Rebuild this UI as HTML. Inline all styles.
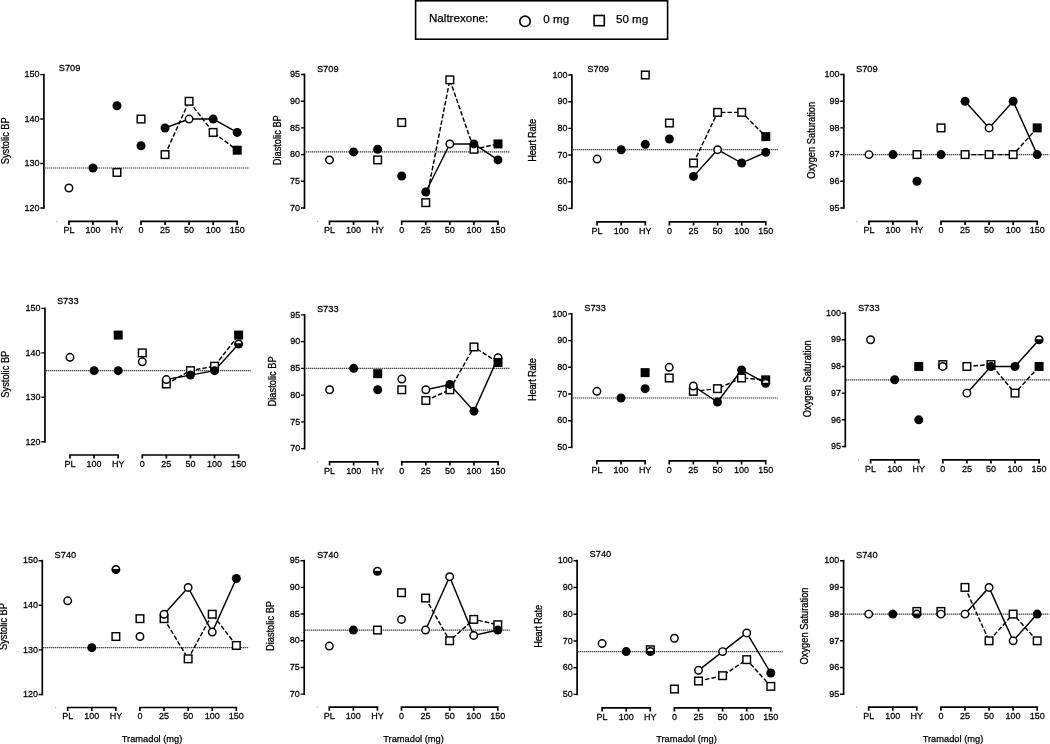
<!DOCTYPE html>
<html><head><meta charset="utf-8"><style>
html,body{margin:0;padding:0;background:#fff;}
svg{display:block;will-change:transform;}
text{font-family:"Liberation Sans", sans-serif;fill:#000;stroke:#000;stroke-width:0.25px;}
</style></head><body>
<svg width="1050" height="744" viewBox="0 0 1050 744">
<rect width="1050" height="744" fill="#fff"/>
<g>
<rect x="415.6" y="0.8" width="252" height="38.4" fill="#fff" stroke="#000" stroke-width="1.6"/>
<text transform="translate(429,22)" font-size="11.6">Naltrexone:</text>
<circle cx="525" cy="21.3" r="5.2" fill="#fff" stroke="#000" stroke-width="1.6"/>
<text transform="translate(543.3,22.9)" font-size="11.6">0 mg</text>
<rect x="594.1" y="15.5" width="10.2" height="10.2" fill="#fff" stroke="#000" stroke-width="1.6"/>
<text transform="translate(616,22.9)" font-size="11.6">50 mg</text>
</g>
<g><path d="M43.9,74.6 V208" stroke="#000" stroke-width="1.7" fill="none" stroke-linecap="square"/><path d="M43.9,208 h-3.6 M43.9,163.53 h-3.6 M43.9,119.07 h-3.6 M43.9,74.6 h-3.6 " stroke="#000" stroke-width="1.4449999999999998" fill="none"/><text transform="translate(39.5,210.7) scale(1,1.1)" text-anchor="end" font-size="9.0">120</text><text transform="translate(39.5,166.23) scale(1,1.1)" text-anchor="end" font-size="9.0">130</text><text transform="translate(39.5,121.77) scale(1,1.1)" text-anchor="end" font-size="9.0">140</text><text transform="translate(39.5,77.3) scale(1,1.1)" text-anchor="end" font-size="9.0">150</text><path d="M68.9,225 V221.4 H116.98 V225 M92.94,221.4 v3.6 " stroke="#000" stroke-width="1.7" fill="none" stroke-linejoin="miter"/><path d="M141.02,225 V221.4 H237.18 V225 M165.06,221.4 v3.6 M189.1,221.4 v3.6 M213.14,221.4 v3.6 " stroke="#000" stroke-width="1.7" fill="none" stroke-linejoin="miter"/><text transform="translate(68.9,233.1) scale(1,1.1)" text-anchor="middle" font-size="9.0">PL</text><text transform="translate(92.94,233.1) scale(1,1.1)" text-anchor="middle" font-size="9.0">100</text><text transform="translate(116.98,233.1) scale(1,1.1)" text-anchor="middle" font-size="9.0">HY</text><text transform="translate(141.02,233.1) scale(1,1.1)" text-anchor="middle" font-size="9.0">0</text><text transform="translate(165.06,233.1) scale(1,1.1)" text-anchor="middle" font-size="9.0">25</text><text transform="translate(189.1,233.1) scale(1,1.1)" text-anchor="middle" font-size="9.0">50</text><text transform="translate(213.14,233.1) scale(1,1.1)" text-anchor="middle" font-size="9.0">100</text><text transform="translate(237.18,233.1) scale(1,1.1)" text-anchor="middle" font-size="9.0">150</text><text transform="translate(58.7,70.6) scale(1,1.05)" font-size="9.3">S709</text><text transform="translate(8.7,140.75) rotate(-90) scale(1,1.1)" text-anchor="middle" font-size="9.3">Systolic BP</text><circle cx="56.9" cy="221.4" r="0.6" fill="#999"/><path d="M45,167.98 H249.18" stroke="#000" stroke-opacity="0.3" stroke-width="1.2" fill="none"/><path d="M45,167.98 H249.18" stroke="#000" stroke-opacity="0.55" stroke-width="1.2" stroke-dasharray="1 1" fill="none"/><polyline points="165.06,154.64 189.1,101.28 213.14,132.41 237.18,150.19" stroke="#000" stroke-width="1.45" fill="none" stroke-dasharray="4.6 2"/><polyline points="165.06,127.96 189.1,119.07 213.14,119.07 237.18,132.41" stroke="#000" stroke-width="1.45" fill="none"/><circle cx="68.9" cy="187.99" r="3.75" fill="#fff" stroke="#000" stroke-width="1.45"/><circle cx="92.94" cy="167.98" r="4.5" fill="#000"/><circle cx="116.98" cy="105.73" r="4.5" fill="#000"/><rect x="113.18" y="168.63" width="7.6" height="7.6" fill="#fff" stroke="#000" stroke-width="1.45"/><rect x="137.22" y="115.27" width="7.6" height="7.6" fill="#fff" stroke="#000" stroke-width="1.45"/><circle cx="141.02" cy="145.75" r="4.5" fill="#000"/><circle cx="165.06" cy="127.96" r="4.5" fill="#000"/><rect x="161.26" y="150.84" width="7.6" height="7.6" fill="#fff" stroke="#000" stroke-width="1.45"/><rect x="185.3" y="97.48" width="7.6" height="7.6" fill="#fff" stroke="#000" stroke-width="1.45"/><circle cx="189.1" cy="119.07" r="3.75" fill="#fff" stroke="#000" stroke-width="1.45"/><circle cx="213.14" cy="119.07" r="4.5" fill="#000"/><rect x="209.34" y="128.61" width="7.6" height="7.6" fill="#fff" stroke="#000" stroke-width="1.45"/><circle cx="237.18" cy="132.41" r="4.5" fill="#000"/><rect x="232.68" y="145.69" width="9.0" height="9.0" fill="#000"/></g>
<g><path d="M304.5,74.5 V208" stroke="#000" stroke-width="1.7" fill="none" stroke-linecap="square"/><path d="M304.5,208 h-3.6 M304.5,181.3 h-3.6 M304.5,154.6 h-3.6 M304.5,127.9 h-3.6 M304.5,101.2 h-3.6 M304.5,74.5 h-3.6 " stroke="#000" stroke-width="1.4449999999999998" fill="none"/><text transform="translate(300.1,210.7) scale(1,1.1)" text-anchor="end" font-size="9.0">70</text><text transform="translate(300.1,184) scale(1,1.1)" text-anchor="end" font-size="9.0">75</text><text transform="translate(300.1,157.3) scale(1,1.1)" text-anchor="end" font-size="9.0">80</text><text transform="translate(300.1,130.6) scale(1,1.1)" text-anchor="end" font-size="9.0">85</text><text transform="translate(300.1,103.9) scale(1,1.1)" text-anchor="end" font-size="9.0">90</text><text transform="translate(300.1,77.2) scale(1,1.1)" text-anchor="end" font-size="9.0">95</text><path d="M329.5,224.95 V221.35 H377.64 V224.95 M353.57,221.35 v3.6 " stroke="#000" stroke-width="1.7" fill="none" stroke-linejoin="miter"/><path d="M401.71,224.95 V221.35 H497.99 V224.95 M425.78,221.35 v3.6 M449.85,221.35 v3.6 M473.92,221.35 v3.6 " stroke="#000" stroke-width="1.7" fill="none" stroke-linejoin="miter"/><text transform="translate(329.5,233.05) scale(1,1.1)" text-anchor="middle" font-size="9.0">PL</text><text transform="translate(353.57,233.05) scale(1,1.1)" text-anchor="middle" font-size="9.0">100</text><text transform="translate(377.64,233.05) scale(1,1.1)" text-anchor="middle" font-size="9.0">HY</text><text transform="translate(401.71,233.05) scale(1,1.1)" text-anchor="middle" font-size="9.0">0</text><text transform="translate(425.78,233.05) scale(1,1.1)" text-anchor="middle" font-size="9.0">25</text><text transform="translate(449.85,233.05) scale(1,1.1)" text-anchor="middle" font-size="9.0">50</text><text transform="translate(473.92,233.05) scale(1,1.1)" text-anchor="middle" font-size="9.0">100</text><text transform="translate(497.99,233.05) scale(1,1.1)" text-anchor="middle" font-size="9.0">150</text><text transform="translate(316.9,71.5) scale(1,1.05)" font-size="9.3">S709</text><text transform="translate(281,140.25) rotate(-90) scale(1,1.1)" text-anchor="middle" font-size="9.3">Diastolic BP</text><circle cx="317.5" cy="221.35" r="0.6" fill="#999"/><path d="M306,151.93 H509.99" stroke="#000" stroke-opacity="0.3" stroke-width="1.2" fill="none"/><path d="M306,151.93 H509.99" stroke="#000" stroke-opacity="0.55" stroke-width="1.2" stroke-dasharray="1 1" fill="none"/><polyline points="425.78,202.66 449.85,79.84 473.92,149.26 497.99,143.92" stroke="#000" stroke-width="1.45" fill="none" stroke-dasharray="4.6 2"/><polyline points="425.78,191.98 449.85,143.92 473.92,143.92 497.99,159.94" stroke="#000" stroke-width="1.45" fill="none"/><circle cx="329.5" cy="159.94" r="3.75" fill="#fff" stroke="#000" stroke-width="1.45"/><circle cx="353.57" cy="151.93" r="4.5" fill="#000"/><circle cx="377.64" cy="149.26" r="4.5" fill="#000"/><rect x="373.84" y="156.14" width="7.6" height="7.6" fill="#fff" stroke="#000" stroke-width="1.45"/><rect x="397.91" y="118.76" width="7.6" height="7.6" fill="#fff" stroke="#000" stroke-width="1.45"/><circle cx="401.71" cy="175.96" r="4.5" fill="#000"/><circle cx="425.78" cy="191.98" r="4.5" fill="#000"/><rect x="421.98" y="198.86" width="7.6" height="7.6" fill="#fff" stroke="#000" stroke-width="1.45"/><rect x="446.05" y="76.04" width="7.6" height="7.6" fill="#fff" stroke="#000" stroke-width="1.45"/><circle cx="449.85" cy="143.92" r="3.75" fill="#fff" stroke="#000" stroke-width="1.45"/><rect x="470.12" y="145.46" width="7.6" height="7.6" fill="#fff" stroke="#000" stroke-width="1.45"/><circle cx="473.92" cy="143.92" r="4.5" fill="#000"/><rect x="493.49" y="139.42" width="9.0" height="9.0" fill="#000"/><circle cx="497.99" cy="159.94" r="4.5" fill="#000"/></g>
<g><path d="M571.9,75 V208.4" stroke="#000" stroke-width="1.7" fill="none" stroke-linecap="square"/><path d="M571.9,208.4 h-3.6 M571.9,181.72 h-3.6 M571.9,155.04 h-3.6 M571.9,128.36 h-3.6 M571.9,101.68 h-3.6 M571.9,75 h-3.6 " stroke="#000" stroke-width="1.4449999999999998" fill="none"/><text transform="translate(567.5,211.1) scale(1,1.1)" text-anchor="end" font-size="9.0">50</text><text transform="translate(567.5,184.42) scale(1,1.1)" text-anchor="end" font-size="9.0">60</text><text transform="translate(567.5,157.74) scale(1,1.1)" text-anchor="end" font-size="9.0">70</text><text transform="translate(567.5,131.06) scale(1,1.1)" text-anchor="end" font-size="9.0">80</text><text transform="translate(567.5,104.38) scale(1,1.1)" text-anchor="end" font-size="9.0">90</text><text transform="translate(567.5,77.7) scale(1,1.1)" text-anchor="end" font-size="9.0">100</text><path d="M597.1,225.4 V221.8 H645.3 V225.4 M621.2,221.8 v3.6 " stroke="#000" stroke-width="1.7" fill="none" stroke-linejoin="miter"/><path d="M669.4,225.4 V221.8 H765.8 V225.4 M693.5,221.8 v3.6 M717.6,221.8 v3.6 M741.7,221.8 v3.6 " stroke="#000" stroke-width="1.7" fill="none" stroke-linejoin="miter"/><text transform="translate(597.1,233.5) scale(1,1.1)" text-anchor="middle" font-size="9.0">PL</text><text transform="translate(621.2,233.5) scale(1,1.1)" text-anchor="middle" font-size="9.0">100</text><text transform="translate(645.3,233.5) scale(1,1.1)" text-anchor="middle" font-size="9.0">HY</text><text transform="translate(669.4,233.5) scale(1,1.1)" text-anchor="middle" font-size="9.0">0</text><text transform="translate(693.5,233.5) scale(1,1.1)" text-anchor="middle" font-size="9.0">25</text><text transform="translate(717.6,233.5) scale(1,1.1)" text-anchor="middle" font-size="9.0">50</text><text transform="translate(741.7,233.5) scale(1,1.1)" text-anchor="middle" font-size="9.0">100</text><text transform="translate(765.8,233.5) scale(1,1.1)" text-anchor="middle" font-size="9.0">150</text><text transform="translate(587.3,71.6) scale(1,1.05)" font-size="9.3">S709</text><text transform="translate(536.3,140.5) rotate(-90) scale(1,1.1)" text-anchor="middle" font-size="9.3" letter-spacing="-0.22">Heart Rate</text><path d="M573,149.7 H777.8" stroke="#000" stroke-opacity="0.3" stroke-width="1.2" fill="none"/><path d="M573,149.7 H777.8" stroke="#000" stroke-opacity="0.55" stroke-width="1.2" stroke-dasharray="1 1" fill="none"/><polyline points="693.5,163.04 717.6,112.35 741.7,112.35 765.8,136.63" stroke="#000" stroke-width="1.45" fill="none" stroke-dasharray="4.6 2"/><polyline points="693.5,176.38 717.6,149.7 741.7,163.04 765.8,152.37" stroke="#000" stroke-width="1.45" fill="none"/><circle cx="597.1" cy="159.04" r="3.75" fill="#fff" stroke="#000" stroke-width="1.45"/><circle cx="621.2" cy="149.7" r="4.5" fill="#000"/><rect x="641.5" y="71.2" width="7.6" height="7.6" fill="#fff" stroke="#000" stroke-width="1.45"/><circle cx="645.3" cy="144.37" r="4.5" fill="#000"/><rect x="665.6" y="119.22" width="7.6" height="7.6" fill="#fff" stroke="#000" stroke-width="1.45"/><circle cx="669.4" cy="139.03" r="4.5" fill="#000"/><rect x="689.7" y="159.24" width="7.6" height="7.6" fill="#fff" stroke="#000" stroke-width="1.45"/><circle cx="693.5" cy="176.38" r="4.5" fill="#000"/><rect x="713.8" y="108.55" width="7.6" height="7.6" fill="#fff" stroke="#000" stroke-width="1.45"/><circle cx="717.6" cy="149.7" r="3.75" fill="#fff" stroke="#000" stroke-width="1.45"/><rect x="737.9" y="108.55" width="7.6" height="7.6" fill="#fff" stroke="#000" stroke-width="1.45"/><circle cx="741.7" cy="163.04" r="4.5" fill="#000"/><rect x="761.3" y="132.13" width="9.0" height="9.0" fill="#000"/><circle cx="765.8" cy="152.37" r="4.5" fill="#000"/></g>
<g><path d="M843.8,74.5 V208" stroke="#000" stroke-width="1.7" fill="none" stroke-linecap="square"/><path d="M843.8,208 h-3.6 M843.8,181.3 h-3.6 M843.8,154.6 h-3.6 M843.8,127.9 h-3.6 M843.8,101.2 h-3.6 M843.8,74.5 h-3.6 " stroke="#000" stroke-width="1.4449999999999998" fill="none"/><text transform="translate(839.4,210.7) scale(1,1.1)" text-anchor="end" font-size="9.0">95</text><text transform="translate(839.4,184) scale(1,1.1)" text-anchor="end" font-size="9.0">96</text><text transform="translate(839.4,157.3) scale(1,1.1)" text-anchor="end" font-size="9.0">97</text><text transform="translate(839.4,130.6) scale(1,1.1)" text-anchor="end" font-size="9.0">98</text><text transform="translate(839.4,103.9) scale(1,1.1)" text-anchor="end" font-size="9.0">99</text><text transform="translate(839.4,77.2) scale(1,1.1)" text-anchor="end" font-size="9.0">100</text><path d="M868.9,224.9 V221.3 H916.98 V224.9 M892.94,221.3 v3.6 " stroke="#000" stroke-width="1.7" fill="none" stroke-linejoin="miter"/><path d="M941.02,224.9 V221.3 H1037.18 V224.9 M965.06,221.3 v3.6 M989.1,221.3 v3.6 M1013.14,221.3 v3.6 " stroke="#000" stroke-width="1.7" fill="none" stroke-linejoin="miter"/><text transform="translate(868.9,233) scale(1,1.1)" text-anchor="middle" font-size="9.0">PL</text><text transform="translate(892.94,233) scale(1,1.1)" text-anchor="middle" font-size="9.0">100</text><text transform="translate(916.98,233) scale(1,1.1)" text-anchor="middle" font-size="9.0">HY</text><text transform="translate(941.02,233) scale(1,1.1)" text-anchor="middle" font-size="9.0">0</text><text transform="translate(965.06,233) scale(1,1.1)" text-anchor="middle" font-size="9.0">25</text><text transform="translate(989.1,233) scale(1,1.1)" text-anchor="middle" font-size="9.0">50</text><text transform="translate(1013.14,233) scale(1,1.1)" text-anchor="middle" font-size="9.0">100</text><text transform="translate(1037.18,233) scale(1,1.1)" text-anchor="middle" font-size="9.0">150</text><text transform="translate(856,71.5) scale(1,1.05)" font-size="9.3">S709</text><text transform="translate(814.5,140.35) rotate(-90) scale(1,1.1)" text-anchor="middle" font-size="9.3">Oxygen Saturation</text><circle cx="856.9" cy="221.3" r="0.6" fill="#999"/><path d="M845,154.6 H1049.18" stroke="#000" stroke-opacity="0.3" stroke-width="1.2" fill="none"/><path d="M845,154.6 H1049.18" stroke="#000" stroke-opacity="0.55" stroke-width="1.2" stroke-dasharray="1 1" fill="none"/><polyline points="965.06,154.6 989.1,154.6 1013.14,154.6 1037.18,127.9" stroke="#000" stroke-width="1.45" fill="none" stroke-dasharray="4.6 2"/><polyline points="965.06,101.2 989.1,127.9 1013.14,101.2 1037.18,154.6" stroke="#000" stroke-width="1.45" fill="none"/><circle cx="868.9" cy="154.6" r="3.75" fill="#fff" stroke="#000" stroke-width="1.45"/><circle cx="892.94" cy="154.6" r="4.5" fill="#000"/><rect x="913.18" y="150.8" width="7.6" height="7.6" fill="#fff" stroke="#000" stroke-width="1.45"/><circle cx="916.98" cy="181.3" r="4.5" fill="#000"/><rect x="937.22" y="124.1" width="7.6" height="7.6" fill="#fff" stroke="#000" stroke-width="1.45"/><circle cx="941.02" cy="154.6" r="4.5" fill="#000"/><circle cx="965.06" cy="101.2" r="4.5" fill="#000"/><rect x="961.26" y="150.8" width="7.6" height="7.6" fill="#fff" stroke="#000" stroke-width="1.45"/><circle cx="989.1" cy="127.9" r="3.75" fill="#fff" stroke="#000" stroke-width="1.45"/><rect x="985.3" y="150.8" width="7.6" height="7.6" fill="#fff" stroke="#000" stroke-width="1.45"/><circle cx="1013.14" cy="101.2" r="4.5" fill="#000"/><rect x="1009.34" y="150.8" width="7.6" height="7.6" fill="#fff" stroke="#000" stroke-width="1.45"/><rect x="1032.68" y="123.4" width="9.0" height="9.0" fill="#000"/><circle cx="1037.18" cy="154.6" r="4.5" fill="#000"/></g>
<g><path d="M44.95,308.4 V441.8" stroke="#000" stroke-width="1.7" fill="none" stroke-linecap="square"/><path d="M44.95,441.8 h-3.6 M44.95,397.33 h-3.6 M44.95,352.87 h-3.6 M44.95,308.4 h-3.6 " stroke="#000" stroke-width="1.4449999999999998" fill="none"/><text transform="translate(40.55,444.5) scale(1,1.1)" text-anchor="end" font-size="9.0">120</text><text transform="translate(40.55,400.03) scale(1,1.1)" text-anchor="end" font-size="9.0">130</text><text transform="translate(40.55,355.57) scale(1,1.1)" text-anchor="end" font-size="9.0">140</text><text transform="translate(40.55,311.1) scale(1,1.1)" text-anchor="end" font-size="9.0">150</text><path d="M70,458.6 V455 H118.18 V458.6 M94.09,455 v3.6 " stroke="#000" stroke-width="1.7" fill="none" stroke-linejoin="miter"/><path d="M142.27,458.6 V455 H238.63 V458.6 M166.36,455 v3.6 M190.45,455 v3.6 M214.54,455 v3.6 " stroke="#000" stroke-width="1.7" fill="none" stroke-linejoin="miter"/><text transform="translate(70,466.7) scale(1,1.1)" text-anchor="middle" font-size="9.0">PL</text><text transform="translate(94.09,466.7) scale(1,1.1)" text-anchor="middle" font-size="9.0">100</text><text transform="translate(118.18,466.7) scale(1,1.1)" text-anchor="middle" font-size="9.0">HY</text><text transform="translate(142.27,466.7) scale(1,1.1)" text-anchor="middle" font-size="9.0">0</text><text transform="translate(166.36,466.7) scale(1,1.1)" text-anchor="middle" font-size="9.0">25</text><text transform="translate(190.45,466.7) scale(1,1.1)" text-anchor="middle" font-size="9.0">50</text><text transform="translate(214.54,466.7) scale(1,1.1)" text-anchor="middle" font-size="9.0">100</text><text transform="translate(238.63,466.7) scale(1,1.1)" text-anchor="middle" font-size="9.0">150</text><text transform="translate(56.9,303.8) scale(1,1.05)" font-size="9.3">S733</text><text transform="translate(9.4,374.2) rotate(-90) scale(1,1.1)" text-anchor="middle" font-size="9.3">Systolic BP</text><path d="M46,370.65 H250.63" stroke="#000" stroke-opacity="0.3" stroke-width="1.2" fill="none"/><path d="M46,370.65 H250.63" stroke="#000" stroke-opacity="0.55" stroke-width="1.2" stroke-dasharray="1 1" fill="none"/><polyline points="166.36,383.99 190.45,370.65 214.54,366.21 238.63,335.08" stroke="#000" stroke-width="1.45" fill="none" stroke-dasharray="4.6 2"/><polyline points="166.36,379.55 190.45,375.1 214.54,370.65 238.63,343.97" stroke="#000" stroke-width="1.45" fill="none"/><circle cx="70" cy="357.31" r="3.75" fill="#fff" stroke="#000" stroke-width="1.45"/><circle cx="94.09" cy="370.65" r="4.5" fill="#000"/><rect x="113.68" y="330.58" width="9.0" height="9.0" fill="#000"/><circle cx="118.18" cy="370.65" r="4.5" fill="#000"/><rect x="138.47" y="349.07" width="7.6" height="7.6" fill="#fff" stroke="#000" stroke-width="1.45"/><circle cx="142.27" cy="361.76" r="3.75" fill="#fff" stroke="#000" stroke-width="1.45"/><rect x="162.56" y="380.19" width="7.6" height="7.6" fill="#fff" stroke="#000" stroke-width="1.45"/><circle cx="166.36" cy="379.55" r="3.75" fill="#fff" stroke="#000" stroke-width="1.45"/><rect x="186.65" y="366.85" width="7.6" height="7.6" fill="#fff" stroke="#000" stroke-width="1.45"/><circle cx="190.45" cy="375.1" r="4.5" fill="#000"/><rect x="210.74" y="362.41" width="7.6" height="7.6" fill="#fff" stroke="#000" stroke-width="1.45"/><circle cx="214.54" cy="370.65" r="4.5" fill="#000"/><rect x="234.13" y="330.58" width="9.0" height="9.0" fill="#000"/><circle cx="238.63" cy="343.97" r="4.5" fill="#000"/><path d="M235.69,343.37 A3.0,3.0 0 0 1 241.57,343.37 Z" fill="#fff"/></g>
<g><path d="M304.6,314.85 V448.65" stroke="#000" stroke-width="1.7" fill="none" stroke-linecap="square"/><path d="M304.6,448.65 h-3.6 M304.6,421.89 h-3.6 M304.6,395.13 h-3.6 M304.6,368.37 h-3.6 M304.6,341.61 h-3.6 M304.6,314.85 h-3.6 " stroke="#000" stroke-width="1.4449999999999998" fill="none"/><text transform="translate(300.2,451.35) scale(1,1.1)" text-anchor="end" font-size="9.0">70</text><text transform="translate(300.2,424.59) scale(1,1.1)" text-anchor="end" font-size="9.0">75</text><text transform="translate(300.2,397.83) scale(1,1.1)" text-anchor="end" font-size="9.0">80</text><text transform="translate(300.2,371.07) scale(1,1.1)" text-anchor="end" font-size="9.0">85</text><text transform="translate(300.2,344.31) scale(1,1.1)" text-anchor="end" font-size="9.0">90</text><text transform="translate(300.2,317.55) scale(1,1.1)" text-anchor="end" font-size="9.0">95</text><path d="M329.6,465.4 V461.8 H377.72 V465.4 M353.66,461.8 v3.6 " stroke="#000" stroke-width="1.7" fill="none" stroke-linejoin="miter"/><path d="M401.78,465.4 V461.8 H498.02 V465.4 M425.84,461.8 v3.6 M449.9,461.8 v3.6 M473.96,461.8 v3.6 " stroke="#000" stroke-width="1.7" fill="none" stroke-linejoin="miter"/><text transform="translate(329.6,473.5) scale(1,1.1)" text-anchor="middle" font-size="9.0">PL</text><text transform="translate(353.66,473.5) scale(1,1.1)" text-anchor="middle" font-size="9.0">100</text><text transform="translate(377.72,473.5) scale(1,1.1)" text-anchor="middle" font-size="9.0">HY</text><text transform="translate(401.78,473.5) scale(1,1.1)" text-anchor="middle" font-size="9.0">0</text><text transform="translate(425.84,473.5) scale(1,1.1)" text-anchor="middle" font-size="9.0">25</text><text transform="translate(449.9,473.5) scale(1,1.1)" text-anchor="middle" font-size="9.0">50</text><text transform="translate(473.96,473.5) scale(1,1.1)" text-anchor="middle" font-size="9.0">100</text><text transform="translate(498.02,473.5) scale(1,1.1)" text-anchor="middle" font-size="9.0">150</text><text transform="translate(316.9,311.5) scale(1,1.05)" font-size="9.3">S733</text><text transform="translate(276,381.4) rotate(-90) scale(1,1.1)" text-anchor="middle" font-size="9.3">Diastolic BP</text><circle cx="317.6" cy="461.8" r="0.6" fill="#999"/><path d="M306,368.37 H510.02" stroke="#000" stroke-opacity="0.3" stroke-width="1.2" fill="none"/><path d="M306,368.37 H510.02" stroke="#000" stroke-opacity="0.55" stroke-width="1.2" stroke-dasharray="1 1" fill="none"/><polyline points="425.84,400.48 449.9,389.78 473.96,346.96 498.02,362.48" stroke="#000" stroke-width="1.45" fill="none" stroke-dasharray="4.6 2"/><polyline points="425.84,389.78 449.9,384.43 473.96,411.19 498.02,357.67" stroke="#000" stroke-width="1.45" fill="none"/><circle cx="329.6" cy="389.78" r="3.75" fill="#fff" stroke="#000" stroke-width="1.45"/><circle cx="353.66" cy="368.37" r="4.5" fill="#000"/><rect x="373.22" y="369.22" width="9.0" height="9.0" fill="#000"/><circle cx="377.72" cy="389.78" r="4.5" fill="#000"/><circle cx="401.78" cy="379.07" r="3.75" fill="#fff" stroke="#000" stroke-width="1.45"/><rect x="397.98" y="385.98" width="7.6" height="7.6" fill="#fff" stroke="#000" stroke-width="1.45"/><circle cx="425.84" cy="389.78" r="3.75" fill="#fff" stroke="#000" stroke-width="1.45"/><rect x="422.04" y="396.68" width="7.6" height="7.6" fill="#fff" stroke="#000" stroke-width="1.45"/><rect x="446.1" y="385.98" width="7.6" height="7.6" fill="#fff" stroke="#000" stroke-width="1.45"/><circle cx="449.9" cy="384.43" r="4.5" fill="#000"/><rect x="470.16" y="343.16" width="7.6" height="7.6" fill="#fff" stroke="#000" stroke-width="1.45"/><circle cx="473.96" cy="411.19" r="4.5" fill="#000"/><circle cx="498.02" cy="357.67" r="3.75" fill="#fff" stroke="#000" stroke-width="1.45"/><rect x="493.52" y="357.98" width="9.0" height="9.0" fill="#000"/></g>
<g><path d="M571.75,313.9 V447.4" stroke="#000" stroke-width="1.7" fill="none" stroke-linecap="square"/><path d="M571.75,447.4 h-3.6 M571.75,420.7 h-3.6 M571.75,394 h-3.6 M571.75,367.3 h-3.6 M571.75,340.6 h-3.6 M571.75,313.9 h-3.6 " stroke="#000" stroke-width="1.4449999999999998" fill="none"/><text transform="translate(567.35,450.1) scale(1,1.1)" text-anchor="end" font-size="9.0">50</text><text transform="translate(567.35,423.4) scale(1,1.1)" text-anchor="end" font-size="9.0">60</text><text transform="translate(567.35,396.7) scale(1,1.1)" text-anchor="end" font-size="9.0">70</text><text transform="translate(567.35,370) scale(1,1.1)" text-anchor="end" font-size="9.0">80</text><text transform="translate(567.35,343.3) scale(1,1.1)" text-anchor="end" font-size="9.0">90</text><text transform="translate(567.35,316.6) scale(1,1.1)" text-anchor="end" font-size="9.0">100</text><path d="M596.9,464.4 V460.8 H645.12 V464.4 M621.01,460.8 v3.6 " stroke="#000" stroke-width="1.7" fill="none" stroke-linejoin="miter"/><path d="M669.23,464.4 V460.8 H765.67 V464.4 M693.34,460.8 v3.6 M717.45,460.8 v3.6 M741.56,460.8 v3.6 " stroke="#000" stroke-width="1.7" fill="none" stroke-linejoin="miter"/><text transform="translate(596.9,472.5) scale(1,1.1)" text-anchor="middle" font-size="9.0">PL</text><text transform="translate(621.01,472.5) scale(1,1.1)" text-anchor="middle" font-size="9.0">100</text><text transform="translate(645.12,472.5) scale(1,1.1)" text-anchor="middle" font-size="9.0">HY</text><text transform="translate(669.23,472.5) scale(1,1.1)" text-anchor="middle" font-size="9.0">0</text><text transform="translate(693.34,472.5) scale(1,1.1)" text-anchor="middle" font-size="9.0">25</text><text transform="translate(717.45,472.5) scale(1,1.1)" text-anchor="middle" font-size="9.0">50</text><text transform="translate(741.56,472.5) scale(1,1.1)" text-anchor="middle" font-size="9.0">100</text><text transform="translate(765.67,472.5) scale(1,1.1)" text-anchor="middle" font-size="9.0">150</text><text transform="translate(584.2,310.8) scale(1,1.05)" font-size="9.3">S733</text><text transform="translate(536.4,379.7) rotate(-90) scale(1,1.1)" text-anchor="middle" font-size="9.3" letter-spacing="-0.22">Heart Rate</text><path d="M573,398 H777.67" stroke="#000" stroke-opacity="0.3" stroke-width="1.2" fill="none"/><path d="M573,398 H777.67" stroke="#000" stroke-opacity="0.55" stroke-width="1.2" stroke-dasharray="1 1" fill="none"/><polyline points="693.34,391.33 717.45,388.66 741.56,377.98 765.67,379.85" stroke="#000" stroke-width="1.45" fill="none" stroke-dasharray="4.6 2"/><polyline points="693.34,385.99 717.45,402.01 741.56,369.97 765.67,383.32" stroke="#000" stroke-width="1.45" fill="none"/><circle cx="596.9" cy="391.33" r="3.75" fill="#fff" stroke="#000" stroke-width="1.45"/><circle cx="621.01" cy="398" r="4.5" fill="#000"/><rect x="640.62" y="368.14" width="9.0" height="9.0" fill="#000"/><circle cx="645.12" cy="388.66" r="4.5" fill="#000"/><circle cx="669.23" cy="367.3" r="3.75" fill="#fff" stroke="#000" stroke-width="1.45"/><rect x="665.43" y="374.18" width="7.6" height="7.6" fill="#fff" stroke="#000" stroke-width="1.45"/><rect x="689.54" y="387.53" width="7.6" height="7.6" fill="#fff" stroke="#000" stroke-width="1.45"/><circle cx="693.34" cy="385.99" r="3.75" fill="#fff" stroke="#000" stroke-width="1.45"/><rect x="713.65" y="384.86" width="7.6" height="7.6" fill="#fff" stroke="#000" stroke-width="1.45"/><circle cx="717.45" cy="402.01" r="4.5" fill="#000"/><circle cx="741.56" cy="369.97" r="4.5" fill="#000"/><rect x="737.76" y="374.18" width="7.6" height="7.6" fill="#fff" stroke="#000" stroke-width="1.45"/><rect x="761.17" y="375.35" width="9.0" height="9.0" fill="#000"/><circle cx="765.67" cy="383.32" r="4.5" fill="#000"/><path d="M762.73,382.72 A3.0,3.0 0 0 1 768.61,382.72 Z" fill="#fff"/></g>
<g><path d="M845.3,313.1 V446.5" stroke="#000" stroke-width="1.7" fill="none" stroke-linecap="square"/><path d="M845.3,446.5 h-3.6 M845.3,419.82 h-3.6 M845.3,393.14 h-3.6 M845.3,366.46 h-3.6 M845.3,339.78 h-3.6 M845.3,313.1 h-3.6 " stroke="#000" stroke-width="1.4449999999999998" fill="none"/><text transform="translate(840.9,449.2) scale(1,1.1)" text-anchor="end" font-size="9.0">95</text><text transform="translate(840.9,422.52) scale(1,1.1)" text-anchor="end" font-size="9.0">96</text><text transform="translate(840.9,395.84) scale(1,1.1)" text-anchor="end" font-size="9.0">97</text><text transform="translate(840.9,369.16) scale(1,1.1)" text-anchor="end" font-size="9.0">98</text><text transform="translate(840.9,342.48) scale(1,1.1)" text-anchor="end" font-size="9.0">99</text><text transform="translate(840.9,315.8) scale(1,1.1)" text-anchor="end" font-size="9.0">100</text><path d="M870.6,463.5 V459.9 H918.74 V463.5 M894.67,459.9 v3.6 " stroke="#000" stroke-width="1.7" fill="none" stroke-linejoin="miter"/><path d="M942.81,463.5 V459.9 H1039.09 V463.5 M966.88,459.9 v3.6 M990.95,459.9 v3.6 M1015.02,459.9 v3.6 " stroke="#000" stroke-width="1.7" fill="none" stroke-linejoin="miter"/><text transform="translate(870.6,471.6) scale(1,1.1)" text-anchor="middle" font-size="9.0">PL</text><text transform="translate(894.67,471.6) scale(1,1.1)" text-anchor="middle" font-size="9.0">100</text><text transform="translate(918.74,471.6) scale(1,1.1)" text-anchor="middle" font-size="9.0">HY</text><text transform="translate(942.81,471.6) scale(1,1.1)" text-anchor="middle" font-size="9.0">0</text><text transform="translate(966.88,471.6) scale(1,1.1)" text-anchor="middle" font-size="9.0">25</text><text transform="translate(990.95,471.6) scale(1,1.1)" text-anchor="middle" font-size="9.0">50</text><text transform="translate(1015.02,471.6) scale(1,1.1)" text-anchor="middle" font-size="9.0">100</text><text transform="translate(1039.09,471.6) scale(1,1.1)" text-anchor="middle" font-size="9.0">150</text><text transform="translate(857.9,310.8) scale(1,1.05)" font-size="9.3">S733</text><text transform="translate(810.8,378.7) rotate(-90) scale(1,1.1)" text-anchor="middle" font-size="9.3">Oxygen Saturation</text><circle cx="858.6" cy="459.9" r="0.6" fill="#999"/><path d="M846,379.8 H1051.09" stroke="#000" stroke-opacity="0.3" stroke-width="1.2" fill="none"/><path d="M846,379.8 H1051.09" stroke="#000" stroke-opacity="0.55" stroke-width="1.2" stroke-dasharray="1 1" fill="none"/><polyline points="966.88,366.46 990.95,364.59 1015.02,393.14 1039.09,366.46" stroke="#000" stroke-width="1.45" fill="none" stroke-dasharray="4.6 2"/><polyline points="966.88,393.14 990.95,366.46 1015.02,366.46 1039.09,339.78" stroke="#000" stroke-width="1.45" fill="none"/><circle cx="870.6" cy="339.78" r="3.75" fill="#fff" stroke="#000" stroke-width="1.45"/><circle cx="894.67" cy="379.8" r="4.5" fill="#000"/><rect x="914.24" y="361.96" width="9.0" height="9.0" fill="#000"/><circle cx="918.74" cy="419.82" r="4.5" fill="#000"/><rect x="939.01" y="360.79" width="7.6" height="7.6" fill="#fff" stroke="#000" stroke-width="1.45"/><circle cx="942.81" cy="366.46" r="3.75" fill="#fff" stroke="#000" stroke-width="1.45"/><rect x="963.08" y="362.66" width="7.6" height="7.6" fill="#fff" stroke="#000" stroke-width="1.45"/><circle cx="966.88" cy="393.14" r="3.75" fill="#fff" stroke="#000" stroke-width="1.45"/><rect x="987.15" y="360.79" width="7.6" height="7.6" fill="#fff" stroke="#000" stroke-width="1.45"/><circle cx="990.95" cy="366.46" r="4.5" fill="#000"/><circle cx="1015.02" cy="366.46" r="4.5" fill="#000"/><rect x="1011.22" y="389.34" width="7.6" height="7.6" fill="#fff" stroke="#000" stroke-width="1.45"/><circle cx="1039.09" cy="339.78" r="4.5" fill="#000"/><path d="M1036.15,339.18 A3.0,3.0 0 0 1 1042.03,339.18 Z" fill="#fff"/><rect x="1034.59" y="361.96" width="9.0" height="9.0" fill="#000"/></g>
<g><path d="M42.3,560.7 V694.5" stroke="#000" stroke-width="1.7" fill="none" stroke-linecap="square"/><path d="M42.3,694.5 h-3.6 M42.3,649.9 h-3.6 M42.3,605.3 h-3.6 M42.3,560.7 h-3.6 " stroke="#000" stroke-width="1.4449999999999998" fill="none"/><text transform="translate(37.9,697.2) scale(1,1.1)" text-anchor="end" font-size="9.0">120</text><text transform="translate(37.9,652.6) scale(1,1.1)" text-anchor="end" font-size="9.0">130</text><text transform="translate(37.9,608) scale(1,1.1)" text-anchor="end" font-size="9.0">140</text><text transform="translate(37.9,563.4) scale(1,1.1)" text-anchor="end" font-size="9.0">150</text><path d="M67.7,711.1 V707.5 H115.88 V711.1 M91.79,707.5 v3.6 " stroke="#000" stroke-width="1.7" fill="none" stroke-linejoin="miter"/><path d="M139.97,711.1 V707.5 H236.33 V711.1 M164.06,707.5 v3.6 M188.15,707.5 v3.6 M212.24,707.5 v3.6 " stroke="#000" stroke-width="1.7" fill="none" stroke-linejoin="miter"/><text transform="translate(67.7,719.2) scale(1,1.1)" text-anchor="middle" font-size="9.0">PL</text><text transform="translate(91.79,719.2) scale(1,1.1)" text-anchor="middle" font-size="9.0">100</text><text transform="translate(115.88,719.2) scale(1,1.1)" text-anchor="middle" font-size="9.0">HY</text><text transform="translate(139.97,719.2) scale(1,1.1)" text-anchor="middle" font-size="9.0">0</text><text transform="translate(164.06,719.2) scale(1,1.1)" text-anchor="middle" font-size="9.0">25</text><text transform="translate(188.15,719.2) scale(1,1.1)" text-anchor="middle" font-size="9.0">50</text><text transform="translate(212.24,719.2) scale(1,1.1)" text-anchor="middle" font-size="9.0">100</text><text transform="translate(236.33,719.2) scale(1,1.1)" text-anchor="middle" font-size="9.0">150</text><text transform="translate(54.6,557.5) scale(1,1.05)" font-size="9.3">S740</text><text transform="translate(7.2,626.5) rotate(-90) scale(1,1.1)" text-anchor="middle" font-size="9.3">Systolic BP</text><text transform="translate(152.01,741.8)" text-anchor="middle" font-size="9.3">Tramadol (mg)</text><circle cx="55.7" cy="707.5" r="0.6" fill="#999"/><path d="M43,647.67 H248.33" stroke="#000" stroke-opacity="0.3" stroke-width="1.2" fill="none"/><path d="M43,647.67 H248.33" stroke="#000" stroke-opacity="0.55" stroke-width="1.2" stroke-dasharray="1 1" fill="none"/><polyline points="164.06,618.68 188.15,658.82 212.24,614.22 236.33,645.44" stroke="#000" stroke-width="1.45" fill="none" stroke-dasharray="4.6 2"/><polyline points="164.06,614.22 188.15,587.46 212.24,632.06 236.33,578.54" stroke="#000" stroke-width="1.45" fill="none"/><circle cx="67.7" cy="600.84" r="3.75" fill="#fff" stroke="#000" stroke-width="1.45"/><circle cx="91.79" cy="647.67" r="4.5" fill="#000"/><circle cx="115.88" cy="569.62" r="4.5" fill="#000"/><path d="M112.94,569.02 A3.0,3.0 0 0 1 118.82,569.02 Z" fill="#fff"/><rect x="112.08" y="632.72" width="7.6" height="7.6" fill="#fff" stroke="#000" stroke-width="1.45"/><rect x="136.17" y="614.88" width="7.6" height="7.6" fill="#fff" stroke="#000" stroke-width="1.45"/><circle cx="139.97" cy="636.52" r="3.75" fill="#fff" stroke="#000" stroke-width="1.45"/><rect x="160.26" y="614.88" width="7.6" height="7.6" fill="#fff" stroke="#000" stroke-width="1.45"/><circle cx="164.06" cy="614.22" r="3.75" fill="#fff" stroke="#000" stroke-width="1.45"/><circle cx="188.15" cy="587.46" r="3.75" fill="#fff" stroke="#000" stroke-width="1.45"/><rect x="184.35" y="655.02" width="7.6" height="7.6" fill="#fff" stroke="#000" stroke-width="1.45"/><rect x="208.44" y="610.42" width="7.6" height="7.6" fill="#fff" stroke="#000" stroke-width="1.45"/><circle cx="212.24" cy="632.06" r="3.75" fill="#fff" stroke="#000" stroke-width="1.45"/><circle cx="236.33" cy="578.54" r="4.5" fill="#000"/><rect x="232.53" y="641.64" width="7.6" height="7.6" fill="#fff" stroke="#000" stroke-width="1.45"/></g>
<g><path d="M304.2,560.7 V694.1" stroke="#000" stroke-width="1.7" fill="none" stroke-linecap="square"/><path d="M304.2,694.1 h-3.6 M304.2,667.42 h-3.6 M304.2,640.74 h-3.6 M304.2,614.06 h-3.6 M304.2,587.38 h-3.6 M304.2,560.7 h-3.6 " stroke="#000" stroke-width="1.4449999999999998" fill="none"/><text transform="translate(299.8,696.8) scale(1,1.1)" text-anchor="end" font-size="9.0">70</text><text transform="translate(299.8,670.12) scale(1,1.1)" text-anchor="end" font-size="9.0">75</text><text transform="translate(299.8,643.44) scale(1,1.1)" text-anchor="end" font-size="9.0">80</text><text transform="translate(299.8,616.76) scale(1,1.1)" text-anchor="end" font-size="9.0">85</text><text transform="translate(299.8,590.08) scale(1,1.1)" text-anchor="end" font-size="9.0">90</text><text transform="translate(299.8,563.4) scale(1,1.1)" text-anchor="end" font-size="9.0">95</text><path d="M329.3,710.8 V707.2 H377.44 V710.8 M353.37,707.2 v3.6 " stroke="#000" stroke-width="1.7" fill="none" stroke-linejoin="miter"/><path d="M401.51,710.8 V707.2 H497.79 V710.8 M425.58,707.2 v3.6 M449.65,707.2 v3.6 M473.72,707.2 v3.6 " stroke="#000" stroke-width="1.7" fill="none" stroke-linejoin="miter"/><text transform="translate(329.3,718.9) scale(1,1.1)" text-anchor="middle" font-size="9.0">PL</text><text transform="translate(353.37,718.9) scale(1,1.1)" text-anchor="middle" font-size="9.0">100</text><text transform="translate(377.44,718.9) scale(1,1.1)" text-anchor="middle" font-size="9.0">HY</text><text transform="translate(401.51,718.9) scale(1,1.1)" text-anchor="middle" font-size="9.0">0</text><text transform="translate(425.58,718.9) scale(1,1.1)" text-anchor="middle" font-size="9.0">25</text><text transform="translate(449.65,718.9) scale(1,1.1)" text-anchor="middle" font-size="9.0">50</text><text transform="translate(473.72,718.9) scale(1,1.1)" text-anchor="middle" font-size="9.0">100</text><text transform="translate(497.79,718.9) scale(1,1.1)" text-anchor="middle" font-size="9.0">150</text><text transform="translate(316.9,557.5) scale(1,1.05)" font-size="9.3">S740</text><text transform="translate(274.2,626) rotate(-90) scale(1,1.1)" text-anchor="middle" font-size="9.3">Diastolic BP</text><text transform="translate(413.55,741.5)" text-anchor="middle" font-size="9.3">Tramadol (mg)</text><circle cx="317.3" cy="707.2" r="0.6" fill="#999"/><path d="M305,630.07 H509.79" stroke="#000" stroke-opacity="0.3" stroke-width="1.2" fill="none"/><path d="M305,630.07 H509.79" stroke="#000" stroke-opacity="0.55" stroke-width="1.2" stroke-dasharray="1 1" fill="none"/><polyline points="425.58,598.05 449.65,640.74 473.72,619.4 497.79,624.73" stroke="#000" stroke-width="1.45" fill="none" stroke-dasharray="4.6 2"/><polyline points="425.58,630.07 449.65,576.71 473.72,635.4 497.79,630.07" stroke="#000" stroke-width="1.45" fill="none"/><circle cx="329.3" cy="646.08" r="3.75" fill="#fff" stroke="#000" stroke-width="1.45"/><circle cx="353.37" cy="630.07" r="4.5" fill="#000"/><circle cx="377.44" cy="571.37" r="4.5" fill="#000"/><path d="M374.5,570.77 A3.0,3.0 0 0 1 380.38,570.77 Z" fill="#fff"/><rect x="373.64" y="626.27" width="7.6" height="7.6" fill="#fff" stroke="#000" stroke-width="1.45"/><rect x="397.71" y="588.92" width="7.6" height="7.6" fill="#fff" stroke="#000" stroke-width="1.45"/><circle cx="401.51" cy="619.4" r="3.75" fill="#fff" stroke="#000" stroke-width="1.45"/><rect x="421.78" y="594.25" width="7.6" height="7.6" fill="#fff" stroke="#000" stroke-width="1.45"/><circle cx="425.58" cy="630.07" r="3.75" fill="#fff" stroke="#000" stroke-width="1.45"/><circle cx="449.65" cy="576.71" r="3.75" fill="#fff" stroke="#000" stroke-width="1.45"/><rect x="445.85" y="636.94" width="7.6" height="7.6" fill="#fff" stroke="#000" stroke-width="1.45"/><rect x="469.92" y="615.6" width="7.6" height="7.6" fill="#fff" stroke="#000" stroke-width="1.45"/><circle cx="473.72" cy="635.4" r="3.75" fill="#fff" stroke="#000" stroke-width="1.45"/><rect x="493.99" y="620.93" width="7.6" height="7.6" fill="#fff" stroke="#000" stroke-width="1.45"/><circle cx="497.79" cy="630.07" r="4.5" fill="#000"/></g>
<g><path d="M577.1,560.7 V694.4" stroke="#000" stroke-width="1.7" fill="none" stroke-linecap="square"/><path d="M577.1,694.4 h-3.6 M577.1,667.66 h-3.6 M577.1,640.92 h-3.6 M577.1,614.18 h-3.6 M577.1,587.44 h-3.6 M577.1,560.7 h-3.6 " stroke="#000" stroke-width="1.4449999999999998" fill="none"/><text transform="translate(572.7,697.1) scale(1,1.1)" text-anchor="end" font-size="9.0">50</text><text transform="translate(572.7,670.36) scale(1,1.1)" text-anchor="end" font-size="9.0">60</text><text transform="translate(572.7,643.62) scale(1,1.1)" text-anchor="end" font-size="9.0">70</text><text transform="translate(572.7,616.88) scale(1,1.1)" text-anchor="end" font-size="9.0">80</text><text transform="translate(572.7,590.14) scale(1,1.1)" text-anchor="end" font-size="9.0">90</text><text transform="translate(572.7,563.4) scale(1,1.1)" text-anchor="end" font-size="9.0">100</text><path d="M602.1,711.4 V707.8 H650.3 V711.4 M626.2,707.8 v3.6 " stroke="#000" stroke-width="1.7" fill="none" stroke-linejoin="miter"/><path d="M674.4,711.4 V707.8 H770.8 V711.4 M698.5,707.8 v3.6 M722.6,707.8 v3.6 M746.7,707.8 v3.6 " stroke="#000" stroke-width="1.7" fill="none" stroke-linejoin="miter"/><text transform="translate(602.1,719.5) scale(1,1.1)" text-anchor="middle" font-size="9.0">PL</text><text transform="translate(626.2,719.5) scale(1,1.1)" text-anchor="middle" font-size="9.0">100</text><text transform="translate(650.3,719.5) scale(1,1.1)" text-anchor="middle" font-size="9.0">HY</text><text transform="translate(674.4,719.5) scale(1,1.1)" text-anchor="middle" font-size="9.0">0</text><text transform="translate(698.5,719.5) scale(1,1.1)" text-anchor="middle" font-size="9.0">25</text><text transform="translate(722.6,719.5) scale(1,1.1)" text-anchor="middle" font-size="9.0">50</text><text transform="translate(746.7,719.5) scale(1,1.1)" text-anchor="middle" font-size="9.0">100</text><text transform="translate(770.8,719.5) scale(1,1.1)" text-anchor="middle" font-size="9.0">150</text><text transform="translate(589.6,556.9) scale(1,1.05)" font-size="9.3">S740</text><text transform="translate(541.6,626.5) rotate(-90) scale(1,1.1)" text-anchor="middle" font-size="9.3" letter-spacing="-0.22">Heart Rate</text><text transform="translate(686.45,742.1)" text-anchor="middle" font-size="9.3">Tramadol (mg)</text><path d="M578,651.62 H782.8" stroke="#000" stroke-opacity="0.3" stroke-width="1.2" fill="none"/><path d="M578,651.62 H782.8" stroke="#000" stroke-opacity="0.55" stroke-width="1.2" stroke-dasharray="1 1" fill="none"/><polyline points="698.5,681.03 722.6,675.68 746.7,659.64 770.8,686.38" stroke="#000" stroke-width="1.45" fill="none" stroke-dasharray="4.6 2"/><polyline points="698.5,670.33 722.6,651.62 746.7,632.9 770.8,673.01" stroke="#000" stroke-width="1.45" fill="none"/><circle cx="602.1" cy="643.59" r="3.75" fill="#fff" stroke="#000" stroke-width="1.45"/><circle cx="626.2" cy="651.62" r="4.5" fill="#000"/><rect x="646.5" y="645.94" width="7.6" height="7.6" fill="#fff" stroke="#000" stroke-width="1.45"/><circle cx="650.3" cy="651.62" r="4.5" fill="#000"/><path d="M647.36,651.02 A3.0,3.0 0 0 1 653.24,651.02 Z" fill="#fff"/><circle cx="674.4" cy="638.25" r="3.75" fill="#fff" stroke="#000" stroke-width="1.45"/><rect x="670.6" y="685.25" width="7.6" height="7.6" fill="#fff" stroke="#000" stroke-width="1.45"/><circle cx="698.5" cy="670.33" r="3.75" fill="#fff" stroke="#000" stroke-width="1.45"/><rect x="694.7" y="677.23" width="7.6" height="7.6" fill="#fff" stroke="#000" stroke-width="1.45"/><circle cx="722.6" cy="651.62" r="3.75" fill="#fff" stroke="#000" stroke-width="1.45"/><rect x="718.8" y="671.88" width="7.6" height="7.6" fill="#fff" stroke="#000" stroke-width="1.45"/><circle cx="746.7" cy="632.9" r="3.75" fill="#fff" stroke="#000" stroke-width="1.45"/><rect x="742.9" y="655.84" width="7.6" height="7.6" fill="#fff" stroke="#000" stroke-width="1.45"/><circle cx="770.8" cy="673.01" r="4.5" fill="#000"/><rect x="767" y="682.58" width="7.6" height="7.6" fill="#fff" stroke="#000" stroke-width="1.45"/></g>
<g><path d="M843.6,560.7 V694.2" stroke="#000" stroke-width="1.7" fill="none" stroke-linecap="square"/><path d="M843.6,694.2 h-3.6 M843.6,667.5 h-3.6 M843.6,640.8 h-3.6 M843.6,614.1 h-3.6 M843.6,587.4 h-3.6 M843.6,560.7 h-3.6 " stroke="#000" stroke-width="1.4449999999999998" fill="none"/><text transform="translate(839.2,696.9) scale(1,1.1)" text-anchor="end" font-size="9.0">95</text><text transform="translate(839.2,670.2) scale(1,1.1)" text-anchor="end" font-size="9.0">96</text><text transform="translate(839.2,643.5) scale(1,1.1)" text-anchor="end" font-size="9.0">97</text><text transform="translate(839.2,616.8) scale(1,1.1)" text-anchor="end" font-size="9.0">98</text><text transform="translate(839.2,590.1) scale(1,1.1)" text-anchor="end" font-size="9.0">99</text><text transform="translate(839.2,563.4) scale(1,1.1)" text-anchor="end" font-size="9.0">100</text><path d="M868.7,710.8 V707.2 H916.84 V710.8 M892.77,707.2 v3.6 " stroke="#000" stroke-width="1.7" fill="none" stroke-linejoin="miter"/><path d="M940.91,710.8 V707.2 H1037.19 V710.8 M964.98,707.2 v3.6 M989.05,707.2 v3.6 M1013.12,707.2 v3.6 " stroke="#000" stroke-width="1.7" fill="none" stroke-linejoin="miter"/><text transform="translate(868.7,718.9) scale(1,1.1)" text-anchor="middle" font-size="9.0">PL</text><text transform="translate(892.77,718.9) scale(1,1.1)" text-anchor="middle" font-size="9.0">100</text><text transform="translate(916.84,718.9) scale(1,1.1)" text-anchor="middle" font-size="9.0">HY</text><text transform="translate(940.91,718.9) scale(1,1.1)" text-anchor="middle" font-size="9.0">0</text><text transform="translate(964.98,718.9) scale(1,1.1)" text-anchor="middle" font-size="9.0">25</text><text transform="translate(989.05,718.9) scale(1,1.1)" text-anchor="middle" font-size="9.0">50</text><text transform="translate(1013.12,718.9) scale(1,1.1)" text-anchor="middle" font-size="9.0">100</text><text transform="translate(1037.19,718.9) scale(1,1.1)" text-anchor="middle" font-size="9.0">150</text><text transform="translate(856,557.5) scale(1,1.05)" font-size="9.3">S740</text><text transform="translate(807.7,626) rotate(-90) scale(1,1.1)" text-anchor="middle" font-size="9.3">Oxygen Saturation</text><text transform="translate(952.95,741.5)" text-anchor="middle" font-size="9.3">Tramadol (mg)</text><circle cx="856.7" cy="707.2" r="0.6" fill="#999"/><path d="M845,614.1 H1049.19" stroke="#000" stroke-opacity="0.3" stroke-width="1.2" fill="none"/><path d="M845,614.1 H1049.19" stroke="#000" stroke-opacity="0.55" stroke-width="1.2" stroke-dasharray="1 1" fill="none"/><polyline points="964.98,587.4 989.05,640.8 1013.12,614.1 1037.19,640.8" stroke="#000" stroke-width="1.45" fill="none" stroke-dasharray="4.6 2"/><polyline points="964.98,614.1 989.05,587.4 1013.12,640.8 1037.19,614.1" stroke="#000" stroke-width="1.45" fill="none"/><circle cx="868.7" cy="614.1" r="3.75" fill="#fff" stroke="#000" stroke-width="1.45"/><circle cx="892.77" cy="614.1" r="4.5" fill="#000"/><rect x="913.04" y="607.63" width="7.6" height="7.6" fill="#fff" stroke="#000" stroke-width="1.45"/><circle cx="916.84" cy="614.1" r="4.5" fill="#000"/><path d="M913.9,613.5 A3.0,3.0 0 0 1 919.78,613.5 Z" fill="#fff"/><rect x="937.11" y="607.63" width="7.6" height="7.6" fill="#fff" stroke="#000" stroke-width="1.45"/><circle cx="940.91" cy="614.1" r="3.75" fill="#fff" stroke="#000" stroke-width="1.45"/><rect x="961.18" y="583.6" width="7.6" height="7.6" fill="#fff" stroke="#000" stroke-width="1.45"/><circle cx="964.98" cy="614.1" r="3.75" fill="#fff" stroke="#000" stroke-width="1.45"/><circle cx="989.05" cy="587.4" r="3.75" fill="#fff" stroke="#000" stroke-width="1.45"/><rect x="985.25" y="637" width="7.6" height="7.6" fill="#fff" stroke="#000" stroke-width="1.45"/><rect x="1009.32" y="610.3" width="7.6" height="7.6" fill="#fff" stroke="#000" stroke-width="1.45"/><circle cx="1013.12" cy="640.8" r="3.75" fill="#fff" stroke="#000" stroke-width="1.45"/><circle cx="1037.19" cy="614.1" r="4.5" fill="#000"/><rect x="1033.39" y="637" width="7.6" height="7.6" fill="#fff" stroke="#000" stroke-width="1.45"/></g>
</svg>
</body></html>
